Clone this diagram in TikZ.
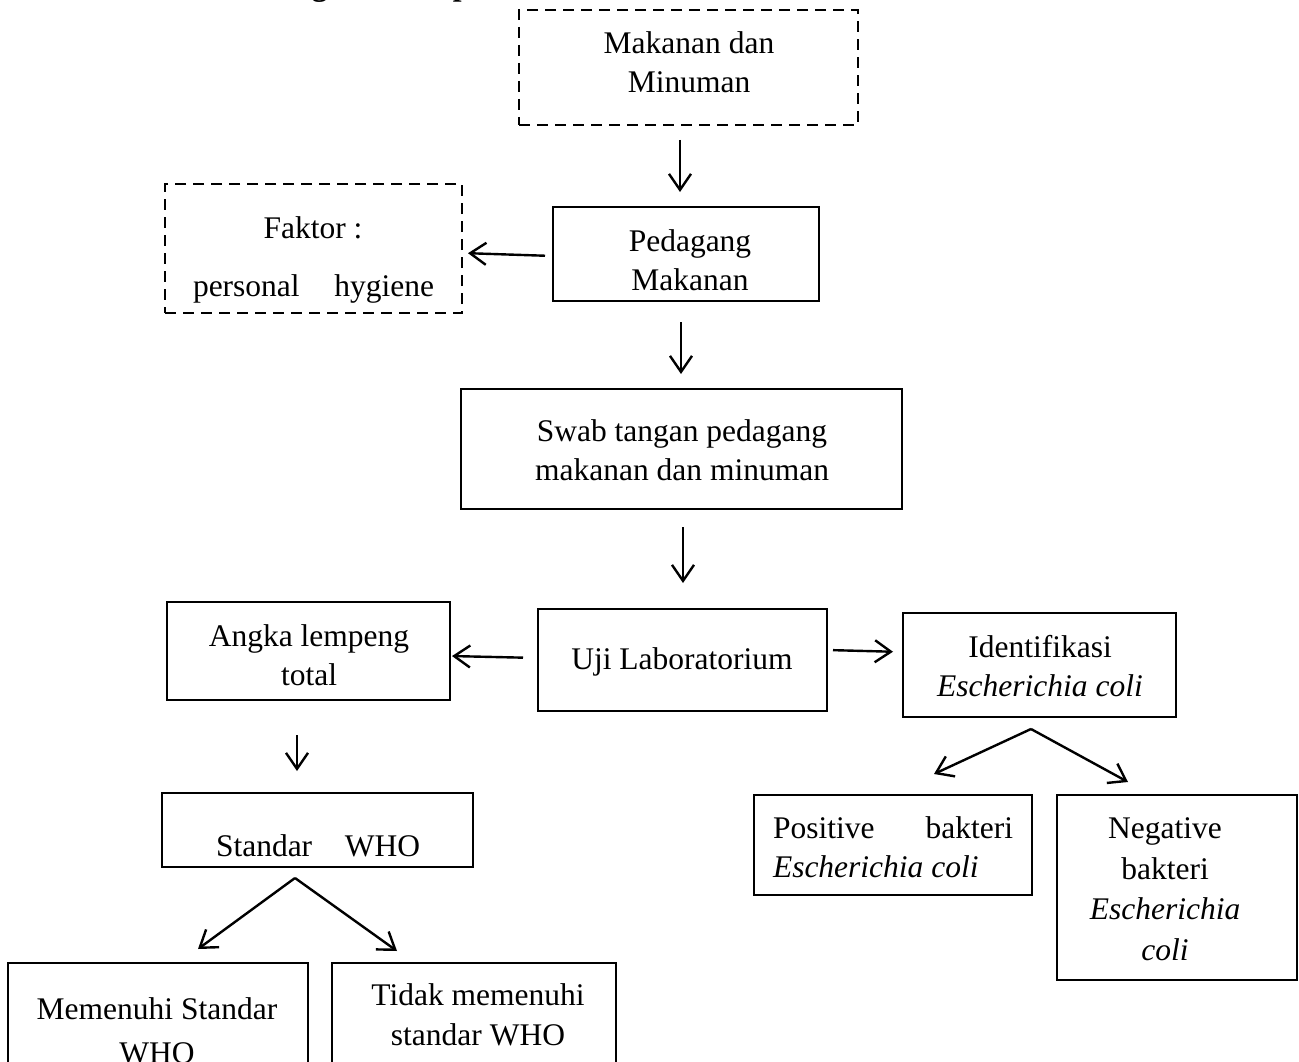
\documentclass[tikz,border=0pt]{standalone}
\usepackage{fontspec}
\setmainfont{Liberation Serif}
\usetikzlibrary{arrows.meta,calc}
\begin{document}
\begin{tikzpicture}[x=1pt,y=-1pt,
  box/.style={draw, line width=2.4pt, inner sep=0pt, outer sep=0pt},
  dbox/.style={box, dash pattern=on 11pt off 7pt},
  txt/.style={inner sep=0pt, align=center, font=\fontsize{31.5}{39.5}\selectfont},
  arr/.style={line width=2.4pt, -{Straight Barb[length=16pt,width=22pt]}}]
\useasboundingbox (0,0) rectangle (1299,1062);

% header (mostly cut off)
\node[anchor=base west, inner sep=0pt, font=\fontsize{31.5}{38}\selectfont\bfseries] (hdr) at (226,-4) {Kerangka Konsep};

% boxes
\node[dbox, minimum width=339pt, minimum height=115pt] (b1) at (688.5,67.5) {};
\node[txt] (b1t) at (689,62) {Makanan dan\\Minuman};

\node[box, minimum width=266pt, minimum height=94pt] (b2) at (686,254) {};
\node[txt] (b2t) at (690,260) {Pedagang\\Makanan};

\node[dbox, minimum width=297pt, minimum height=129pt] (b3) at (313.5,248.5) {};
\node[txt] (b3t) at (313,228) {Faktor :};
\node[txt] (b3u) at (313.5,289) {\makebox[241pt][s]{personal\hfill hygiene}};

\node[box, minimum width=441pt, minimum height=120pt] (b4) at (681.5,449) {};
\node[txt] (b4t) at (682,450) {Swab tangan pedagang\\makanan dan minuman};

\node[box, minimum width=289pt, minimum height=102pt] (b5) at (682.5,660) {};
\node[txt] (b5t) at (682,662) {Uji Laboratorium};

\node[box, minimum width=283pt, minimum height=98pt] (b6) at (308.5,651) {};
\node[txt] (b6t) at (309,655) {Angka lempeng\\total};

\node[box, minimum width=273pt, minimum height=104pt] (b7) at (1039.5,665) {};
\node[txt] (b7t) at (1040,666) {Identifikasi\\\textit{Escherichia coli}};

\node[box, minimum width=311pt, minimum height=74pt] (b8) at (317.5,830) {};
\node[txt] (b8t) at (318,846) {\makebox[204pt][s]{Standar\hfill WHO}};

\node[box, minimum width=278pt, minimum height=100pt] (b9) at (893,845) {};
\node[txt, align=left] (b9t) at (893,847) {\makebox[240pt][s]{Positive\hfill bakteri}\\\textit{Escherichia coli}};

\node[box, minimum width=240pt, minimum height=185pt] (b10) at (1177,887.5) {};
\node[txt, font=\fontsize{31.5}{40.5}\selectfont] (b10t) at (1165,889) {Negative\\bakteri\\\textit{Escherichia}\\\textit{coli}};

\node[box, minimum width=300pt, minimum height=127pt] (b11) at (158,1026.5) {};
\node[txt, font=\fontsize{31.5}{44}\selectfont] (b11t) at (157,1031) {Memenuhi Standar\\WHO};

\node[box, minimum width=284pt, minimum height=127pt] (b12) at (474,1026.5) {};
\node[txt] (b12t) at (478,1015) {Tidak memenuhi\\standar WHO};

% connectors
\draw[arr, shorten <=15pt, shorten >=15pt] ($(b1.south)+(-8.5,0)$) -- ($(b2.north)+(-6,0)$);
\draw[arr, shorten <=8pt, shorten >=6pt] ($(b2.west)+(0,2)$) -- ($(b3.east)+(0,4.5)$);
\draw[arr, shorten <=21pt, shorten >=15pt] ($(b2.south)+(-5,0)$) -- ($(b4.north)+(-0.5,0)$);
\draw[arr, shorten <=18pt, shorten >=26pt] ($(b4.south)+(1.5,0)$) -- ($(b5.north)+(0.5,0)$);
\draw[arr, shorten <=15pt, shorten >=2pt] ($(b5.west)+(0,-2)$) -- ($(b6.east)+(0,5)$);
\draw[arr, shorten <=6pt, shorten >=10pt] ($(b5.east)+(0,-10)$) -- ($(b7.west)+(0,-13)$);
\coordinate (p7) at ($(b7.south)+(-8.5,12)$);
\draw[arr] (p7) -- ($(b9.north)+(41,-21)$);
\draw[arr] (p7) -- ($(b10.north)+(-49,-13)$);
\draw[arr, shorten <=35pt, shorten >=22pt] ($(b6.south)+(-11.5,0)$) -- ($(b8.north)+(-20.5,0)$);
\coordinate (p8) at ($(b8.south)+(-22.5,11)$);
\draw[arr] (p8) -- ($(b11.north)+(40,-14)$);
\draw[arr] (p8) -- ($(b12.north)+(-77,-12)$);
\end{tikzpicture}
\end{document}
